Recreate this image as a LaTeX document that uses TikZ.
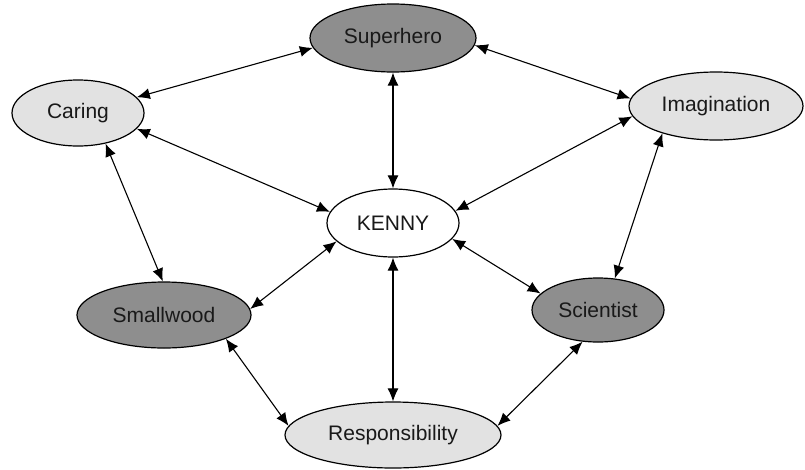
\documentclass[tikz,border=0pt]{standalone}
\usepackage{fontspec}
\setmainfont{Liberation Sans}
\usetikzlibrary{shapes.geometric,arrows.meta}
\definecolor{darkfill}{HTML}{8E8E8E}
\definecolor{lightfill}{HTML}{E2E2E2}
\tikzset{
  oval/.style={ellipse, draw=black, line width=1.2pt, inner sep=0pt,
    font=\fontsize{21}{25}\selectfont, text=black!90},
  dark/.style={oval, fill=darkfill},
  light/.style={oval, fill=lightfill},
  plain/.style={oval, fill=white},
  link/.style={line width=1.1pt, {Latex[length=13pt,width=11pt]}-{Latex[length=13pt,width=11pt]}}
}
\begin{document}
\begin{tikzpicture}[x=1pt,y=-1pt]
\useasboundingbox (0,0) rectangle (805,469);
\node[dark, minimum width=166pt, minimum height=68pt] (sh) at (393,38) {Superhero};
\node[light, minimum width=132pt, minimum height=66pt] (ca) at (78,113) {Caring};
\node[light, minimum width=174pt, minimum height=68pt] (im) at (716,106) {Imagination};
\node[plain, minimum width=132pt, minimum height=68pt] (ke) at (393,223) {KENNY};
\node[dark, minimum width=174pt, minimum height=66pt] (sw) at (164,315) {Smallwood};
\node[dark, minimum width=132pt, minimum height=64pt] (sc) at (598,310) {Scientist};
\node[light, minimum width=216pt, minimum height=66pt] (re) at (393,435) {Responsibility};

\draw[link] (ca.15) -- (sh.187);
\draw[link] (sh.355) -- (im.175);
\draw[link] (sh.270) -- (ke.90);
\draw[link] (ca.345) -- (ke.170);
\draw[link] (ca.312) -- (sw.92);
\draw[link] (im.187) -- (ke.11);
\draw[link] (im.207) -- (sc.62);
\draw[link] (ke.198) -- (sw.4);
\draw[link] (ke.270) -- (re.90);
\draw[link] (ke.345) -- (sc.164);
\draw[link] (sw.339) -- (re.175);
\draw[link] (sc.244) -- (re.5);
\end{tikzpicture}
\end{document}
